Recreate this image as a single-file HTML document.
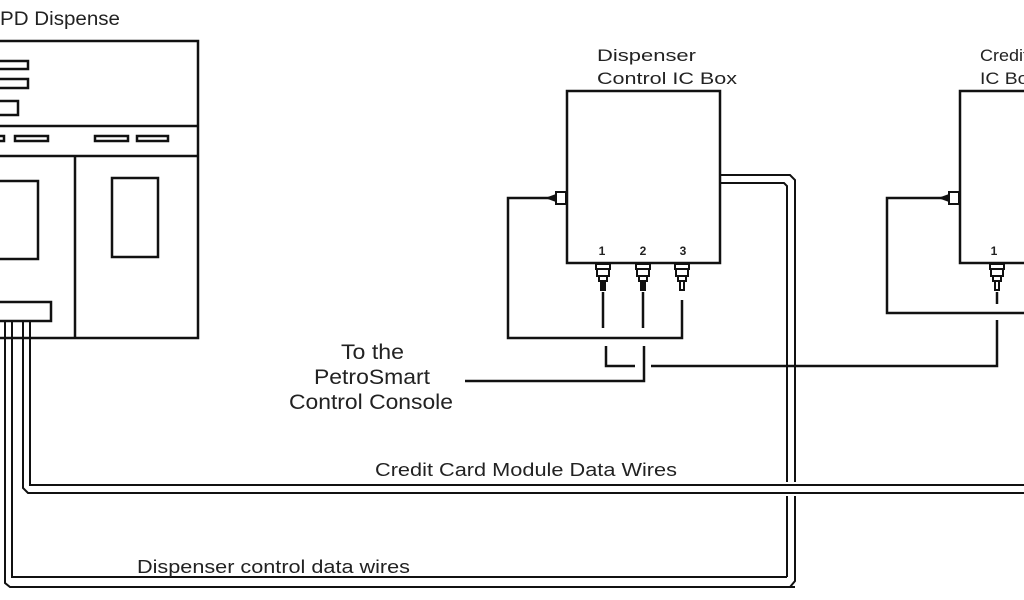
<!DOCTYPE html>
<html><head><style>
html,body{margin:0;padding:0;background:#fff;width:1024px;height:600px;overflow:hidden}
svg{display:block}
text{font-family:"Liberation Sans",sans-serif;fill:#222}
</style></head><body>
<svg width="1024" height="600" viewBox="0 0 1024 600" xmlns="http://www.w3.org/2000/svg">
<g fill="none" stroke="#111" stroke-width="2.5">
<rect x="-5" y="41" width="203" height="297"/>
<line x1="0" y1="126" x2="198" y2="126"/>
<line x1="0" y1="156" x2="198" y2="156"/>
<line x1="75" y1="156" x2="75" y2="338"/>
<rect x="-5" y="61" width="33" height="8"/>
<rect x="-5" y="79" width="33" height="9"/>
<rect x="-5" y="101" width="23" height="14"/>
<rect x="-5" y="136" width="9" height="5"/>
<rect x="15" y="136" width="33" height="5"/>
<rect x="95" y="136" width="33" height="5"/>
<rect x="137" y="136" width="31" height="5"/>
<rect x="-5" y="181" width="43" height="78"/>
<rect x="112" y="178" width="46" height="79"/>
<rect x="-5" y="302" width="56" height="19"/>
<path d="M5 321 V583 L10 587 H795" stroke-width="2"/>
<path d="M12 321 V577 H787" stroke-width="2"/>
<path d="M23 321 V488 L28 493 H1024" stroke-width="2"/>
<path d="M30 321 V485 H1024" stroke-width="2"/>
<path d="M720 175 H790 L795 180 V482 M795 496 V581 L790 587" stroke-width="2"/>
<path d="M720 183 H784 L787 186 V482 M787 496 V577" stroke-width="2"/>
<rect x="567" y="91" width="153" height="172"/>
<path d="M550 198 H508 V338 H682 V300"/>
<line x1="603" y1="292" x2="603" y2="328"/>
<line x1="643" y1="292" x2="643" y2="328"/>
<path d="M606 346 V366 H635"/>
<path d="M644 346 V381 H465"/>
<path d="M651 366 H997 V320"/>
<rect x="960" y="91" width="80" height="172"/>
<path d="M943 198 H887 V313 H1024"/>
<line x1="997" y1="292" x2="997" y2="304"/>
</g>
<g fill="#fff" stroke="#111" stroke-width="2">
<rect x="556" y="192" width="10" height="12"/>
<rect x="949" y="192" width="10" height="12"/>
<g transform="translate(603,0)"><rect x="-7" y="264" width="14" height="5"/><rect x="-6" y="269" width="12" height="7"/><rect x="-4" y="276" width="8" height="5"/><rect x="-2" y="281" width="4" height="9" fill="#111"/></g>
<g transform="translate(643,0)"><rect x="-7" y="264" width="14" height="5"/><rect x="-6" y="269" width="12" height="7"/><rect x="-4" y="276" width="8" height="5"/><rect x="-2" y="281" width="4" height="9" fill="#111"/></g>
<g transform="translate(682,0)"><rect x="-7" y="264" width="14" height="5"/><rect x="-6" y="269" width="12" height="7"/><rect x="-4" y="276" width="8" height="5"/><rect x="-2" y="281" width="4" height="9"/></g>
<g transform="translate(997,0)"><rect x="-7" y="264" width="14" height="5"/><rect x="-6" y="269" width="12" height="7"/><rect x="-4" y="276" width="8" height="5"/><rect x="-2" y="281" width="4" height="9"/></g>
</g>
<path d="M545 198 L556 194 V202 Z M938 198 L949 194 V202 Z" fill="#111"/>
<text x="0" y="25" font-size="19" textLength="120" lengthAdjust="spacingAndGlyphs">PD Dispense</text>
<text x="597" y="61" font-size="17" textLength="99" lengthAdjust="spacingAndGlyphs">Dispenser</text>
<text x="597" y="84" font-size="17" textLength="140" lengthAdjust="spacingAndGlyphs">Control IC Box</text>
<text x="980" y="61" font-size="17" textLength="48" lengthAdjust="spacingAndGlyphs">Credit</text>
<text x="980" y="84" font-size="17" textLength="58" lengthAdjust="spacingAndGlyphs">IC Box</text>
<text x="602" y="255" font-size="12" font-weight="bold" text-anchor="middle">1</text>
<text x="643" y="255" font-size="12" font-weight="bold" text-anchor="middle">2</text>
<text x="683" y="255" font-size="12" font-weight="bold" text-anchor="middle">3</text>
<text x="994" y="255" font-size="12" font-weight="bold" text-anchor="middle">1</text>
<text x="341" y="359" font-size="21" textLength="63" lengthAdjust="spacingAndGlyphs">To the</text>
<text x="314" y="384" font-size="21" textLength="116" lengthAdjust="spacingAndGlyphs">PetroSmart</text>
<text x="289" y="409" font-size="21" textLength="164" lengthAdjust="spacingAndGlyphs">Control Console</text>
<text x="375" y="476" font-size="18" textLength="302" lengthAdjust="spacingAndGlyphs">Credit Card Module Data Wires</text>
<text x="137" y="573" font-size="18" textLength="273" lengthAdjust="spacingAndGlyphs">Dispenser control data wires</text>
</svg>
</body></html>
